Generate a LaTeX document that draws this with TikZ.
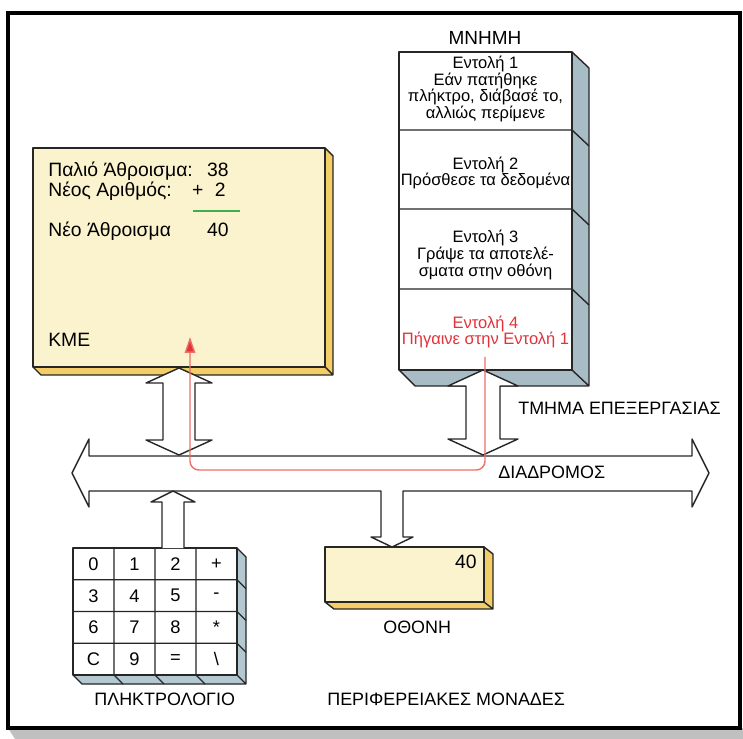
\documentclass[tikz,border=0pt]{standalone}
\usepackage{fontspec}
\setmainfont{Liberation Sans}
\usetikzlibrary{arrows.meta}
\definecolor{cmefront}{RGB}{251,243,206}
\definecolor{cmeside}{RGB}{242,205,104}
\definecolor{memside}{RGB}{168,188,198}
\definecolor{keyside}{RGB}{180,200,210}
\definecolor{linkred}{RGB}{236,112,102}
\definecolor{instrred}{RGB}{226,50,58}
\definecolor{sumgreen}{RGB}{60,176,80}
\definecolor{bandgrey}{RGB}{192,192,192}

\begin{document}
\begin{tikzpicture}[x=0.02cm,y=-0.02cm,
    outl/.style={draw=black!85,line width=0.8pt,line join=round},
    barrow/.style={outl,fill=white},
    lbl/.style={inner sep=0pt,font=\fontsize{10.2}{12}\selectfont},
    cmetxt/.style={inner sep=0pt,font=\fontsize{11}{12}\selectfont},
    memtxt/.style={align=center,inner sep=0pt,font=\fontsize{9.4}{9.6}\selectfont},
    keytxt/.style={inner sep=0pt,font=\fontsize{10.4}{12}\selectfont},
    redline/.style={draw=linkred,line width=0.8pt,rounded corners=5pt}]
  \useasboundingbox (0,0) rectangle (743,739);
  % frame
  \fill[bandgrey] (8,728) -- (743,728) -- (743,739) -- (15,739) -- cycle;
  \draw[line width=1.8pt] (8,13) rectangle (740,728);

  % KME
  \fill[cmeside] (325,148) -- (333,156) -- (333,375) -- (41,375) -- (33,367) -- (325,367) -- cycle;
  \draw[outl] (325,148) -- (333,156) -- (333,375) -- (41,375) -- (33,367) (325,367) -- (333,375);
  \draw[outl,fill=cmefront] (33,148) rectangle (325,367);
  \draw[sumgreen,line width=0.8pt] (193,211) -- (240,211);
  \node[cmetxt,anchor=base west] (oldsum) at (48,177) {Παλιό Άθροισμα:};
  \node[cmetxt,anchor=base east] (oldval) at (229,177) {38};
  \node[cmetxt,anchor=base west] (newnum) at (48,197) {Νέος Αριθμός:};
  \node[cmetxt,anchor=base east] (newval) at (226,197) {+\hspace{0.6em}2};
  \node[cmetxt,anchor=base west] (newsum) at (48,237) {Νέο Άθροισμα};
  \node[cmetxt,anchor=base east] (sumval) at (229,237) {40};
  \node[cmetxt,anchor=base west] (kme) at (48,347) {ΚΜΕ};

  % memory
  \fill[memside] (572,52) -- (589,68) -- (589,386) -- (415,386) -- (399,370) -- (572,370) -- cycle;
  \draw[outl] (572,52) -- (589,68) -- (589,386) -- (415,386) -- (399,370) (572,370) -- (589,386);
  \draw[outl,fill=white] (399,52) rectangle (572,370);
  \foreach \yy in {130,209,289}
    \draw[outl] (399,\yy) -- (572,\yy) -- (589,\yy+16);
  \node[lbl,anchor=base,font=\fontsize{10.8}{12}\selectfont] (mem) at (485,45) {ΜΝΗΜΗ};
  \node[memtxt] (cell1) at (485.5,89) {Εντολή 1\\Εάν πατήθηκε\\πλήκτρο, διάβασέ το,\\αλλιώς περίμενε};
  \node[memtxt] (cell2) at (485.5,173) {Εντολή 2\\Πρόσθεσε τα δεδομένα};
  \node[memtxt] (cell3) at (485.5,255) {Εντολή 3\\Γράψε τα αποτελέ-\\σματα στην οθόνη};
  \node[memtxt,text=instrred] (cell4) at (485.5,332) {Εντολή 4\\Πήγαινε στην Εντολή 1};

  % keyboard
  \fill[keyside] (237,548) -- (246,557) -- (246,684) -- (82,684) -- (73,675) -- (237,675) -- cycle;
  \draw[outl] (237,548) -- (246,557) -- (246,684) -- (82,684) -- (73,675) (237,675) -- (246,684);
  \draw[outl,fill=white] (73,548) rectangle (237,675);
  \foreach \i in {1,2,3}{
    \draw[outl] (73+41*\i,548) -- (73+41*\i,675) -- +(9,9);
    \draw[outl] (73,548+31.75*\i) -- (237,548+31.75*\i) -- +(9,9);
  }
  \foreach \k [count=\n from 0] in {0,1,2,+,3,4,5,-,6,7,8,*,C,9,=,\textbackslash}
    \node[keytxt] (key\n) at ({93.5+41*mod(\n,4)},{564+31.75*div(\n,4)}) {\k};
  \node[lbl,anchor=base west] (keyb) at (94,705) {ΠΛΗΚΤΡΟΛΟΓΙΟ};

  % display
  \fill[cmeside] (484,547) -- (493,554) -- (493,609) -- (334,609) -- (325,602) -- (484,602) -- cycle;
  \draw[outl] (484,547) -- (493,554) -- (493,609) -- (334,609) -- (325,602) (484,602) -- (493,609);
  \draw[outl,fill=cmefront] (325,547) rectangle (484,602);
  \node[cmetxt,anchor=base east] (shown) at (477,568) {40};
  \node[lbl,anchor=base west] (disp) at (383,633) {ΟΘΟΝΗ};

  % bus and block arrows
  \draw[barrow] (72,473) -- (89,439) -- (89,456) -- (692,456) -- (692,439) -- (709,473)
    -- (692,507) -- (692,491) -- (403,491) -- (403,537) -- (413,537) -- (392,547)
    -- (371,537) -- (381,537) -- (381,491) -- (89,491) -- (89,507) -- cycle;
  \draw[barrow] (179,368) -- (212,383) -- (195,383) -- (195,440) -- (212,440) -- (179,455)
    -- (146,440) -- (163,440) -- (163,383) -- (146,383) -- cycle;
  \draw[barrow] (483,370) -- (518,386) -- (500,386) -- (500,439) -- (518,439) -- (483,455)
    -- (448,439) -- (466,439) -- (466,386) -- (448,386) -- cycle;
  \draw[barrow] (162,548) -- (162,502) -- (151,502) -- (173,491) -- (195,502) -- (184,502) -- (184,548);
  \node[lbl,anchor=base west] (proc) at (518,415) {ΤΜΗΜΑ ΕΠΕΞΕΡΓΑΣΙΑΣ};
  \node[lbl,anchor=base west] (bus) at (498,478) {ΔΙΑΔΡΟΜΟΣ};
  \node[lbl,anchor=base west] (periph) at (327,705) {ΠΕΡΙΦΕΡΕΙΑΚΕΣ ΜΟΝΑΔΕΣ};

  % jump back to instruction 1
  \coordinate (jumpfrom) at (485,357);
  \coordinate (jumpto) at (190,337);
  \draw[redline,-{Triangle[length=9pt,width=6pt,fill=instrred]}] (jumpfrom) -- (jumpfrom |- 0,470)
    -- (jumpto |- 0,470) -- (jumpto);
\end{tikzpicture}
\end{document}
